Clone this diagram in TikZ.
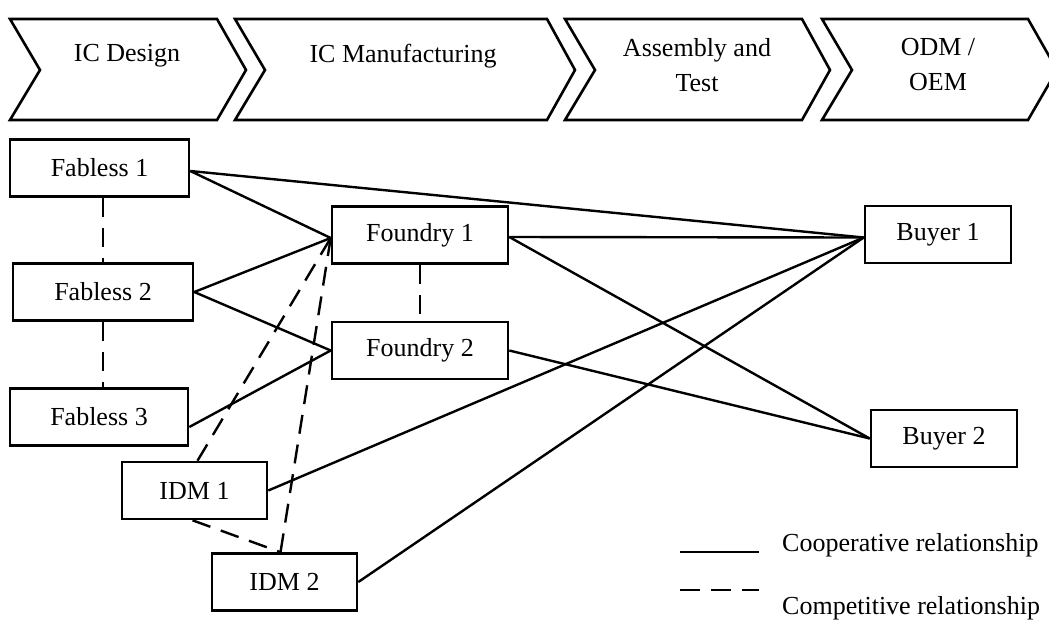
\documentclass[tikz,border=0pt]{standalone}
\usepackage{fontspec}
\setmainfont{Liberation Serif}
\begin{document}
\begin{tikzpicture}[x=1pt,y=-1pt,
  every node/.style={font=\fontsize{26}{35}\selectfont},
  chev/.style={draw,line width=2.6pt,line join=miter},
  entity/.style={draw,line width=2.6pt,minimum width=#1,minimum height=57pt,inner sep=0pt},
  entity/.default=178pt,
  coop/.style={line width=2.4pt},
  comp/.style={line width=2.4pt,dash pattern=on 19pt off 11pt}]
\useasboundingbox (0,0) rectangle (1049,619);
\clip (0,0) rectangle (1049,619);

% value-chain stages
\draw[chev] (10,19) -- (217,19) -- (246,70) -- (217,120) -- (10,120) -- (40,70) -- cycle;
\draw[chev] (235,19) -- (547,19) -- (575,70) -- (547,120) -- (235,120) -- (265,70) -- cycle;
\draw[chev] (565,19) -- (802,19) -- (830,70) -- (802,120) -- (565,120) -- (595,70) -- cycle;
\draw[chev] (822,19) -- (1028,19) -- (1057,70) -- (1028,120) -- (822,120) -- (852,70) -- cycle;
\node (s1) at (127,56) {IC Design};
\node (s2) at (403,56) {IC Manufacturing};
\node[align=center] (s3) at (697,65) {Assembly and\\Test};
\node[align=center] (s4) at (938,65) {ODM /\\OEM};

% firms
\node[entity=179pt] (f1) at (99.5,168) {Fabless 1};
\node[entity=180pt] (f2) at (103,292) {Fabless 2};
\node[entity=178pt] (f3) at (99,417) {Fabless 3};
\node[entity=145pt] (i1) at (194.5,490.5) {IDM 1};
\node[entity=145pt] (i2) at (284.5,582) {IDM 2};
\node[entity=176pt] (fo1) at (420,235) {Foundry 1};
\node[entity=176pt] (fo2) at (420,350.5) {Foundry 2};
\node[entity=146pt] (b1) at (938,234.5) {Buyer 1};
\node[entity=146pt] (b2) at (944,438.5) {Buyer 2};

% cooperative links
\draw[coop] ([yshift=-3pt]f1.east) -- ([yshift=-3pt]fo1.west);
\draw[coop] ([yshift=-3pt]f1.east) -- ([yshift=-3pt]b1.west);
\draw[coop] (f2.east) -- ([yshift=-3pt]fo1.west);
\draw[coop] (f2.east) -- (fo2.west);
\draw[coop] ([yshift=-10pt]f3.east) -- (fo2.west);
\draw[coop] (i1.east) -- ([yshift=-3pt]b1.west);
\draw[coop] (i2.east) -- ([yshift=-3pt]b1.west);
\draw[coop] ([yshift=-2pt]fo1.east) -- ([yshift=-3pt]b1.west);
\draw[coop] ([yshift=-2pt]fo1.east) -- (b2.west);
\draw[coop] (fo2.east) -- (b2.west);

% competitive links
\draw[comp] (f2.north |- f1.south) -- (f2.north);
\draw[comp] (f2.south) -- (f2.south |- f3.north);
\draw[comp] (fo1.south) -- (fo2.north);
\draw[comp] ([xshift=3pt]i1.north) -- ([yshift=-3pt]fo1.west);
\draw[comp] ([xshift=-4pt]i2.north) -- ([yshift=-3pt]fo1.west);
\draw[comp] ([xshift=-2pt]i1.south) -- ([xshift=-4pt]i2.north);

% legend
\coordinate (l1a) at (680,552);
\coordinate (l1b) at (759,552);
\coordinate (l2a) at (680,590);
\coordinate (l2b) at (759,590);
\draw[coop] (l1a) -- (l1b);
\draw[line width=2.4pt,dash pattern=on 20pt off 11pt] (l2a) -- (l2b);
\node[anchor=west,inner sep=0pt] (t1) at (782,545) {Cooperative relationship};
\node[anchor=west,inner sep=0pt] (t2) at (782,608) {Competitive relationship};
\end{tikzpicture}
\end{document}
